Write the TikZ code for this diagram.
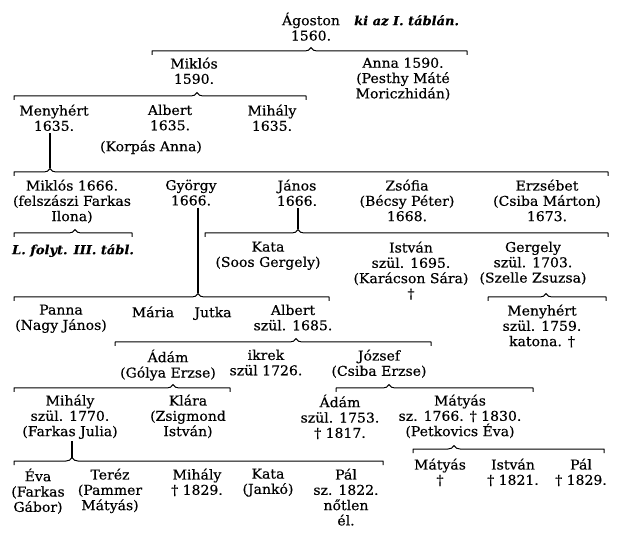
\documentclass[tikz,border=0pt]{standalone}
\usepackage{fontspec}
\setmainfont{DejaVu Serif}[FakeStretch=1.04, FakeBold=0.4]
\usepackage{tikz}
\usetikzlibrary{positioning}
\newcommand{\nevfont}{\fontsize{13.5}{15.3}\selectfont}
\tikzset{
  szemely/.style={align=center, inner sep=0pt, anchor=north, yshift=12.5pt,
    font=\nevfont, execute at begin node={\rule{0pt}{12.5pt}}},
  megjegyzes/.style={szemely, font=\fontsize{12.5}{15.3}\selectfont\bfseries\itshape},
  kapcs/.style={line width=1pt, line join=round},
  ag/.style={line width=1.1pt, shorten <=2pt},
}
% family brace: name of peak, left end, right end, peak x, y
\newcommand{\kapocs}[5]{%
  \coordinate (#1) at (#4,#5-3.5);
  \draw[kapcs] (#2,#5+4) -- (#2,#5) -- (#4-6,#5)
    to[out=0,in=-115] (#1) to[out=-65,in=180] (#4+6,#5)
    -- (#3,#5) -- (#3,#5+4);
}

\begin{document}
\begin{tikzpicture}[x=1pt, y=-1pt]
  \useasboundingbox[fill=white] (0,0) rectangle (622,540);

  % Agoston and his children
  \node[szemely] (agoston) at (311,25) {Ágoston\\1560.};
  \node[megjegyzes, anchor=north west] (kiaz) at (354,25) {ki az I. táblán.};
  \kapocs{k1}{152}{467}{311}{51}
  \node[szemely] (miklos1) at (194,70) {Miklós\\1590.};
  \node[szemely] (anna) at (403,70) {Anna 1590.\\(Pesthy Máté\\Moriczhidán)};

  % Miklos 1590
  \kapocs{k2}{14}{306}{197}{96}
  \node[szemely] (menyhert1) at (54,117) {Menyhért\\1635.};
  \node[szemely] (albert1) at (170,117) {Albert\\1635.};
  \node[szemely] (korpas) at (151,151) {(Korpás Anna)};
  \node[szemely] (mihaly1) at (272,117) {Mihály\\1635.};

  % Menyhert 1635
  \kapocs{k3}{14}{608}{50}{172}
  \draw[ag] (k3 |- menyhert1.south) -- (k3);
  \node[szemely] (miklos2) at (72,192) {Miklós 1666.\\(felszászi Farkas\\Ilona)};
  \node[szemely] (gyorgy) at (191,192) {György\\1666.};
  \node[szemely] (janos) at (297,192) {János\\1666.};
  \node[szemely] (zsofia) at (407,192) {Zsófia\\(Bécsy Péter)\\1668.};
  \node[szemely] (erzsebet) at (547,192) {Erzsébet\\(Csiba Márton)\\1673.};

  \kapocs{k4}{14}{132}{75}{233}
  \node[megjegyzes] (folyt) at (73,254) {L. folyt. III. tábl.};

  % Janos
  \kapocs{k5}{205}{608}{298}{233}
  \draw[ag] (k5 |- janos.south) -- (k5);
  \node[szemely] (kata1) at (268,254) {Kata\\(Soos Gergely)};
  \node[szemely] (istvan1) at (411,254) {István\\szül. 1695.\\(Karácson Sára)\\†};
  \node[szemely] (gergely) at (533,254) {Gergely\\szül. 1703.\\(Szelle Zsuzsa)};

  % Gyorgy
  \kapocs{k6}{14}{329}{198}{297}
  \draw[ag] (k6 |- gyorgy.south) -- (k6);
  \node[szemely] (panna) at (61,317) {Panna\\(Nagy János)};
  \node[szemely] (maria) at (153,317) {Mária};
  \node[szemely] (jutka) at (213,317) {Jutka};
  \node[szemely] (albert2) at (293,317) {Albert\\szül. 1685.};

  % Gergely
  \kapocs{k7}{488}{606}{546}{297}
  \node[szemely] (menyhert2) at (542,317) {Menyhért\\szül. 1759.\\katona. †};

  % Albert 1685
  \kapocs{k8}{115}{431}{296}{342}
  \node[szemely] (adam1) at (168,362) {Ádám\\(Gólya Erzse)};
  \node[szemely] (ikrek) at (266,362) {ikrek\\szül 1726.};
  \node[szemely] (jozsef) at (379,362) {József\\(Csiba Erzse)};

  % Adam and Jozsef
  \kapocs{k9}{14}{230}{173}{388}
  \kapocs{k10}{336}{533}{389}{388}
  \node[szemely] (mihaly2) at (70,407) {Mihály\\szül. 1770.\\(Farkas Julia)};
  \node[szemely] (klara) at (188,407) {Klára\\(Zsigmond\\István)};
  \node[szemely] (adam2) at (340,407) {Ádám\\szül. 1753.\\† 1817.};
  \node[szemely] (matyas1) at (460,407) {Mátyás\\sz. 1766. † 1830.\\(Petkovics Éva)};

  % Mihaly 1770
  \kapocs{k11}{14}{383}{72}{461}
  \draw[ag] (k11 |- mihaly2.south) -- (k11);
  \node[szemely] (eva) at (38,481) {Éva\\(Farkas\\Gábor)};
  \node[szemely] (terez) at (110,481) {Teréz\\(Pammer\\Mátyás)};
  \node[szemely] (mihaly3) at (197,481) {Mihály\\† 1829.};
  \node[szemely] (kata2) at (268,481) {Kata\\(Jankó)};
  \node[szemely] (pal1) at (346,481) {Pál\\sz. 1822.\\nőtlen\\él.};

  % Matyas 1766
  \kapocs{k12}{413}{604}{454}{449}
  \node[szemely] (matyas2) at (440,471) {Mátyás\\†};
  \node[szemely] (istvan2) at (513,471) {István\\† 1821.};
  \node[szemely] (pal2) at (581,471) {Pál\\† 1829.};
\end{tikzpicture}
\end{document}
